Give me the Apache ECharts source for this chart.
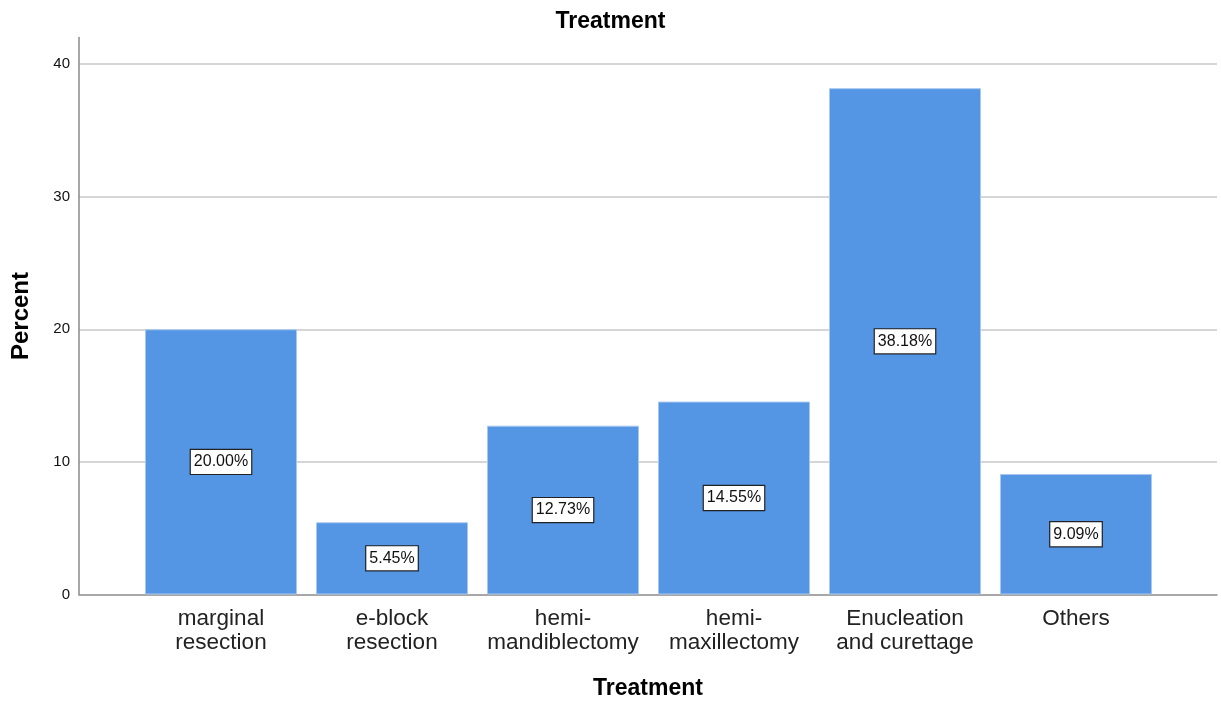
<!DOCTYPE html>
<html>
<head>
<meta charset="utf-8">
<script src="https://cdn.jsdelivr.net/npm/echarts@6/dist/echarts.min.js"></script>
<style>
  html, body { margin: 0; padding: 0; background: #ffffff; }
  #chart { width: 1221px; height: 703px; }
</style>
</head>
<body>
<div id="chart"></div>
<script>
// Treatment distribution (percent of cases)
const categories = ['marginal\nresection', 'e-block\nresection', 'hemi-\nmandiblectomy', 'hemi-\nmaxillectomy', 'Enucleation\nand curettage', 'Others'];
const percentValues = [20.00, 5.45, 12.73, 14.55, 38.18, 9.09];
const yTicks = [0, 10, 20, 30, 40];

const FONT = 'Liberation Sans, Arial, sans-serif';
const chart = echarts.init(document.getElementById('chart'), null, { renderer: 'canvas' });

chart.setOption({
  backgroundColor: '#ffffff',
  animation: false,
  title: {
    text: 'Treatment',
    left: 'center',
    top: 5,
    textStyle: { fontFamily: FONT, fontSize: 23, fontWeight: 'bold', color: '#000' }
  },
  grid: [
    // frame grid: axis lines, gridlines, tick labels and axis names
    { left: 79, right: 4, top: 37.5, bottom: 108.5, containLabel: false, outerBoundsMode: 'none' },
    // bar grid: the category band sits inset inside the frame
    { left: 135.5, right: 59.5, top: 37.5, bottom: 108.5, containLabel: false, outerBoundsMode: 'none' }
  ],
  xAxis: [
    {
      gridIndex: 0, type: 'value', min: 0, max: 1,
      axisLine: { show: true, onZero: false, lineStyle: { color: '#8a8a8a', width: 1.5 } },
      axisTick: { show: false }, axisLabel: { show: false }, splitLine: { show: false },
      name: 'Treatment', nameLocation: 'middle', nameGap: 83,
      nameTextStyle: { fontFamily: FONT, fontSize: 23, fontWeight: 'bold', color: '#000' }
    },
    {
      gridIndex: 1, type: 'category', data: categories,
      axisLine: { show: false }, axisTick: { show: false },
      axisLabel: { fontFamily: FONT, fontSize: 22.5, color: '#222', lineHeight: 24, margin: 12, interval: 0 }
    }
  ],
  yAxis: [
    {
      gridIndex: 0, type: 'value', min: 0, max: 42, interval: 10,
      axisLine: { show: true, lineStyle: { color: '#8a8a8a', width: 1.5 } },
      axisTick: { show: false },
      axisLabel: {
        fontFamily: FONT, fontSize: 15, color: '#111', margin: 9,
        formatter: v => (yTicks.indexOf(v) >= 0 ? String(v) : '')
      },
      splitLine: { show: true, showMinLine: false, showMaxLine: false, lineStyle: { color: '#d6d6d6', width: 2 } },
      name: 'Percent', nameLocation: 'middle', nameGap: 46,
      nameTextStyle: { fontFamily: FONT, fontSize: 24, fontWeight: 'bold', color: '#000' }
    },
    {
      gridIndex: 1, type: 'value', min: 0, max: 42, show: false
    }
  ],
  series: [
    {
      type: 'bar',
      xAxisIndex: 1, yAxisIndex: 1,
      data: percentValues,
      barWidth: 152,
      itemStyle: { color: '#5596e4', borderColor: '#a8c8f0', borderWidth: 1 },
      label: {
        show: true, position: 'inside',
        formatter: p => p.value.toFixed(2) + '%',
        fontFamily: FONT, fontSize: 16, color: '#111',
        backgroundColor: '#ffffff', borderColor: '#222', borderWidth: 1.2,
        padding: [5, 3, 3, 3]
      }
    }
  ]
});
</script>
</body>
</html>
